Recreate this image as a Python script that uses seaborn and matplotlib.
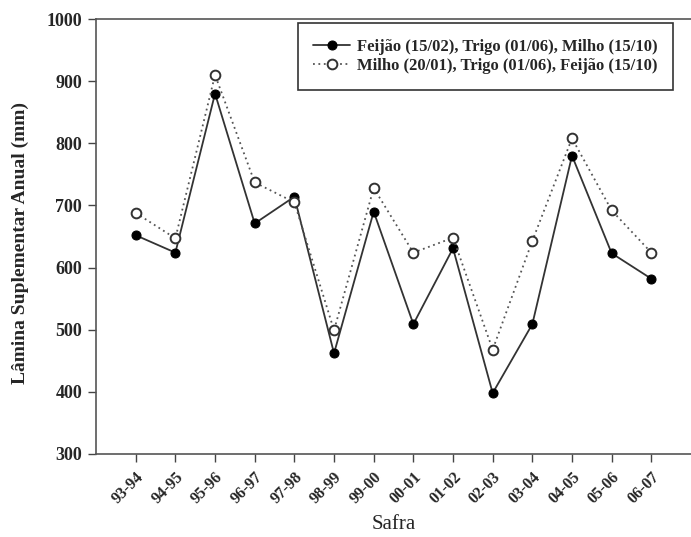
import numpy as np
import pandas as pd
import seaborn as sns
import matplotlib.pyplot as plt

safras = ["93-94", "94-95", "95-96", "96-97", "97-98", "98-99", "99-00",
          "00-01", "01-02", "02-03", "03-04", "04-05", "05-06", "06-07"]

# lamina suplementar anual (mm) para cada sequencia de cultivo
seq_feijao = [652, 624, 880, 671, 714, 462, 690, 509, 631, 398, 509, 780, 623, 582]
seq_milho = [688, 647, 910, 737, 705, 499, 728, 624, 648, 468, 643, 808, 692, 624]

label_feijao = "Feijão (15/02), Trigo (01/06), Milho (15/10)"
label_milho = "Milho (20/01), Trigo (01/06), Feijão (15/10)"

yticks = [300, 400, 500, 600, 700, 800, 900, 1000]

sns.set_style("ticks")
plt.rcParams['font.family'] = ['Liberation Serif', 'DejaVu Serif']

fig = plt.figure(figsize=(6.91, 5.37), dpi=100)
ax = fig.add_axes([0.139, 0.1546, 0.861, 0.81])

x = np.arange(len(safras))
sns.lineplot(x=x, y=seq_feijao, ax=ax, color="#333333", linewidth=1.3,
             marker="o", markersize=6.5, markerfacecolor="black",
             markeredgecolor="black", label=label_feijao)
sns.lineplot(x=x, y=seq_milho, ax=ax, color="#555555", linewidth=1.3,
             linestyle=(0, (1, 2)), marker="o", markersize=7,
             markerfacecolor="white", markeredgecolor="#333333",
             markeredgewidth=1.4, label=label_milho)

ax.set_xlim(-1, 14)
ax.set_ylim(300, 1000)
ax.set_yticks(yticks)
ax.set_yticklabels([str(v) for v in yticks], fontsize=13, fontweight="bold")
ax.set_xticks(x)
ax.set_xticklabels(safras, rotation=45, ha="right", rotation_mode="anchor",
                   fontsize=11.5, fontweight="bold")
ax.tick_params(axis="both", direction="out", length=5.5, width=1, color="#444444")
ax.tick_params(axis="y", pad=4.5)
ax.tick_params(axis="x", pad=5.5)

for side in ["left", "bottom", "top"]:
    ax.spines[side].set_color("#555555")
    ax.spines[side].set_linewidth(1.2)
ax.spines["right"].set_visible(False)

ax.set_xlabel("Safra", fontsize=15, labelpad=6)
ax.set_ylabel("Lâmina Suplementar Anual (mm)", fontsize=14, fontweight="bold")
ax.yaxis.set_label_coords(-0.113, 0.485)

leg = ax.legend(loc="upper right", bbox_to_anchor=(0.970, 0.991), borderaxespad=0,
                fancybox=False, framealpha=1, edgecolor="#333333",
                prop={"weight": "bold", "size": 12},
                handlelength=2.2, handletextpad=0.4, borderpad=0.95, labelspacing=0.2)
leg.get_frame().set_linewidth(1.2)

fig.savefig("out.png", dpi=100)
